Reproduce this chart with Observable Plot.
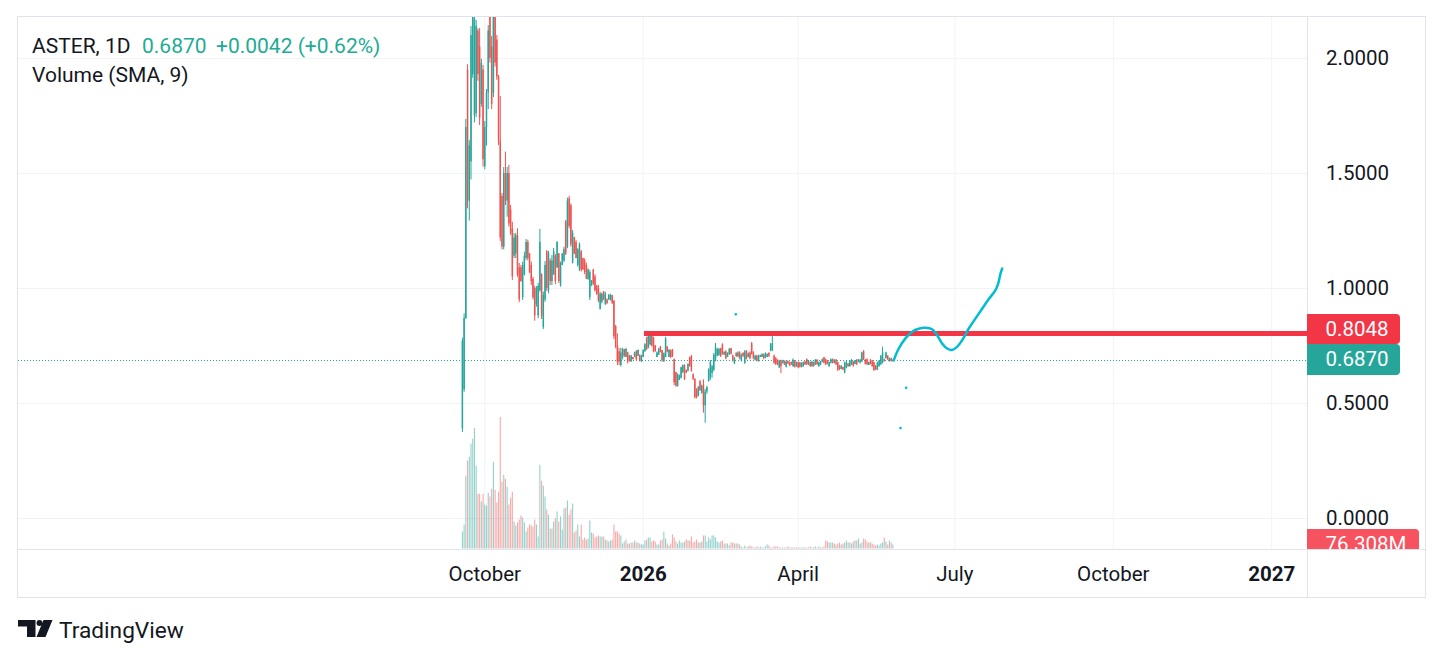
<!DOCTYPE html>
<html>
<head>
<meta charset="utf-8">
<script src="https://cdn.jsdelivr.net/npm/d3@7"></script>
<script src="https://cdn.jsdelivr.net/npm/@observablehq/plot@0.6"></script>
<style>
  html, body { margin: 0; padding: 0; background: #ffffff; }
  #chart { position: relative; width: 1444px; height: 659px; overflow: hidden; font-family: Roboto, sans-serif; }
  #chart > svg { position: absolute; left: 0; top: 0; }
  .abs { position: absolute; box-sizing: border-box; }
  .plabel { position: absolute; left: 1307px; color: #ffffff; font-size: 20.5px; padding-left: 18.5px; box-sizing: border-box; border-radius: 0 4px 4px 0; }
</style>
</head>
<body>
<div id="chart"></div>
<script>
// ---------- data ----------
const firstCandleDate = "2025-09-18"; // daily candles from this date onward

const opens = [
  0.39,0.56,0.87,1.95,1.38,1.55,1.93,1.75,1.76,2.12,
  2.05,1.80,1.95,1.53,1.70,1.85,2.22,2.05,1.85,2.20,
  2.08,1.92,1.64,1.40,1.18,1.50,1.38,1.50,1.34,1.26,
  1.14,1.15,1.23,1.09,1.09,0.96,1.06,1.13,1.20,1.15,
  1.10,1.04,1.00,0.93,0.88,0.99,1.06,0.83,0.95,1.16,
  0.99,1.12,1.03,1.06,1.14,1.09,1.15,1.01,1.10,1.12,
  1.29,1.18,1.39,1.36,1.11,1.22,1.20,1.10,1.08,1.16,
  1.13,1.12,1.10,1.04,0.96,1.01,1.08,1.05,1.01,1.00,
  0.91,0.94,0.985,0.93,0.95,0.95,0.95,0.97,0.945,0.835,
  0.75,0.725,0.665,0.70,0.735,0.70,0.72,0.705,0.68,0.70,
  0.70,0.725,0.705,0.71,0.68,0.70,0.725,0.785,0.74,0.755,
  0.80,0.785,0.75,0.70,0.71,0.745,0.73,0.68,0.70,0.745,
  0.70,0.73,0.73,0.69,0.635,0.575,0.60,0.61,0.635,0.665,
  0.645,0.64,0.70,0.705,0.625,0.605,0.56,0.53,0.595,0.545,
  0.58,0.49,0.55,0.595,0.61,0.63,0.645,0.69,0.705,0.71,
  0.738,0.755,0.71,0.725,0.70,0.712,0.738,0.708,0.672,0.718,
  0.702,0.72,0.685,0.718,0.675,0.725,0.70,0.72,0.76,0.72,
  0.688,0.705,0.683,0.70,0.70,0.712,0.698,0.70,0.718,0.727,
  0.73,0.705,0.695,0.688,0.655,0.685,0.673,0.683,0.658,0.683,
  0.678,0.678,0.66,0.685,0.66,0.678,0.675,0.657,0.66,0.68,
  0.69,0.668,0.678,0.66,0.678,0.668,0.688,0.66,0.668,0.678,
  0.698,0.69,0.685,0.66,0.675,0.69,0.675,0.688,0.678,0.662,
  0.648,0.656,0.632,0.655,0.672,0.66,0.668,0.68,0.67,0.688,
  0.68,0.675,0.68,0.725,0.688,0.69,0.665,0.688,0.685,0.678,
  0.662,0.645,0.66,0.668,0.675,0.69,0.695,0.705,0.683,0.695,
  0.6828
];
const highs = [
  0.784,0.89,1.735,1.973,1.643,2.139,2.30,2.25,2.165,2.129,
  2.13,1.997,1.97,1.726,1.865,2.143,2.43,2.096,2.35,2.25,
  2.10,1.926,1.835,1.413,1.526,1.593,1.526,1.535,1.361,1.288,
  1.239,1.24,1.26,1.109,1.10,1.115,1.158,1.213,1.21,1.152,
  1.115,1.049,1.01,1.009,1.023,1.257,1.064,0.984,1.117,1.165,
  1.161,1.129,1.143,1.174,1.148,1.204,1.152,1.115,1.152,1.18,
  1.296,1.393,1.401,1.368,1.252,1.223,1.209,1.173,1.198,1.165,
  1.132,1.129,1.11,1.086,1.078,1.035,1.083,1.06,1.013,1.013,
  0.984,0.98,0.987,0.984,0.955,0.974,0.975,0.97,0.948,0.839,
  0.803,0.74,0.74,0.74,0.735,0.74,0.723,0.709,0.71,0.70,
  0.723,0.73,0.733,0.71,0.71,0.733,0.76,0.788,0.803,0.81,
  0.80,0.788,0.752,0.724,0.74,0.748,0.73,0.72,0.788,0.748,
  0.735,0.733,0.735,0.694,0.636,0.629,0.624,0.658,0.668,0.668,
  0.645,0.673,0.701,0.709,0.629,0.607,0.564,0.573,0.60,0.58,
  0.603,0.561,0.575,0.651,0.687,0.667,0.717,0.761,0.739,0.74,
  0.74,0.76,0.725,0.73,0.72,0.74,0.74,0.71,0.70,0.72,
  0.725,0.725,0.715,0.72,0.73,0.73,0.72,0.725,0.765,0.725,
  0.71,0.71,0.71,0.71,0.716,0.716,0.72,0.716,0.72,0.761,
  0.797,0.71,0.70,0.69,0.688,0.688,0.688,0.685,0.685,0.685,
  0.68,0.68,0.694,0.687,0.68,0.68,0.68,0.677,0.68,0.683,
  0.694,0.687,0.68,0.683,0.68,0.691,0.691,0.68,0.683,0.694,
  0.701,0.694,0.687,0.68,0.694,0.694,0.691,0.691,0.68,0.665,
  0.665,0.658,0.68,0.683,0.673,0.687,0.691,0.683,0.687,0.691,
  0.691,0.691,0.723,0.730,0.691,0.694,0.68,0.691,0.687,0.68,
  0.665,0.68,0.687,0.709,0.745,0.694,0.723,0.709,0.697,0.697,
  0.69
];
const lows = [
  0.374,0.549,0.865,1.346,1.293,1.472,1.914,1.72,1.743,1.901,
  1.709,1.788,1.527,1.516,1.619,1.778,1.98,1.778,1.83,1.963,
  1.905,1.622,1.204,1.168,1.168,1.361,1.31,1.267,1.23,1.035,
  1.13,1.13,1.049,0.939,1.027,0.948,1.054,1.122,1.12,1.065,
  1.013,0.95,0.858,0.919,0.868,0.984,0.865,0.822,0.94,0.987,
  0.977,1.013,1.013,1.057,1.017,1.087,1.022,1.006,1.10,1.112,
  1.143,1.173,1.26,1.18,1.107,1.148,1.129,1.093,1.074,1.071,
  1.078,1.06,1.039,1.035,0.948,1.01,1.013,0.985,0.97,0.938,
  0.906,0.933,0.948,0.926,0.93,0.948,0.945,0.93,0.778,0.738,
  0.665,0.665,0.658,0.69,0.70,0.70,0.672,0.68,0.68,0.69,
  0.70,0.685,0.704,0.68,0.68,0.70,0.723,0.73,0.738,0.75,
  0.745,0.72,0.723,0.70,0.71,0.72,0.68,0.68,0.70,0.72,
  0.70,0.695,0.70,0.578,0.571,0.571,0.60,0.607,0.63,0.60,
  0.63,0.637,0.658,0.636,0.60,0.52,0.52,0.53,0.553,0.54,
  0.458,0.414,0.54,0.593,0.60,0.61,0.638,0.681,0.703,0.705,
  0.70,0.71,0.71,0.69,0.70,0.71,0.71,0.68,0.67,0.70,
  0.70,0.69,0.68,0.70,0.67,0.69,0.70,0.69,0.71,0.69,
  0.685,0.68,0.68,0.70,0.70,0.69,0.695,0.70,0.70,0.725,
  0.725,0.67,0.665,0.665,0.652,0.63,0.672,0.665,0.655,0.67,
  0.66,0.665,0.658,0.654,0.658,0.651,0.654,0.655,0.658,0.665,
  0.665,0.665,0.658,0.658,0.658,0.665,0.665,0.658,0.665,0.677,
  0.672,0.665,0.668,0.658,0.672,0.672,0.672,0.665,0.639,0.643,
  0.647,0.643,0.629,0.651,0.658,0.658,0.665,0.658,0.668,0.665,
  0.677,0.672,0.68,0.687,0.668,0.665,0.665,0.668,0.658,0.639,
  0.643,0.643,0.658,0.665,0.672,0.68,0.694,0.687,0.68,0.68,
  0.68
];
const closes = [
  0.77,0.87,1.70,1.38,1.62,2.10,2.18,2.17,2.14,1.93,
  1.74,1.98,1.56,1.70,1.85,2.12,2.00,1.80,2.20,1.98,
  1.92,1.64,1.22,1.18,1.50,1.38,1.50,1.28,1.24,1.05,
  1.22,1.23,1.06,0.95,1.03,1.10,1.14,1.20,1.13,1.07,
  1.03,0.96,0.88,1.00,1.01,1.20,0.88,0.97,1.10,1.00,
  1.15,1.03,1.12,1.16,1.03,1.20,1.03,1.11,1.15,1.17,
  1.15,1.38,1.27,1.19,1.24,1.15,1.13,1.17,1.19,1.08,
  1.08,1.07,1.04,1.08,1.07,1.03,1.02,0.99,0.975,0.945,
  0.975,0.975,0.95,0.975,0.935,0.97,0.97,0.935,0.79,0.745,
  0.68,0.68,0.72,0.735,0.705,0.735,0.68,0.685,0.705,0.69,
  0.72,0.69,0.73,0.685,0.705,0.73,0.755,0.735,0.80,0.805,
  0.75,0.725,0.725,0.72,0.735,0.722,0.685,0.715,0.78,0.723,
  0.73,0.70,0.705,0.59,0.575,0.625,0.62,0.655,0.665,0.605,
  0.632,0.67,0.66,0.64,0.605,0.525,0.525,0.57,0.555,0.575,
  0.49,0.55,0.57,0.645,0.68,0.66,0.71,0.745,0.735,0.735,
  0.705,0.715,0.722,0.695,0.718,0.735,0.715,0.685,0.695,0.705,
  0.72,0.695,0.71,0.705,0.725,0.695,0.715,0.695,0.715,0.695,
  0.705,0.685,0.705,0.708,0.712,0.695,0.715,0.712,0.705,0.755,
  0.76,0.675,0.67,0.668,0.685,0.66,0.685,0.668,0.68,0.672,
  0.663,0.668,0.688,0.658,0.675,0.655,0.658,0.675,0.678,0.668,
  0.668,0.685,0.66,0.68,0.66,0.688,0.668,0.677,0.68,0.69,
  0.675,0.668,0.67,0.678,0.69,0.675,0.688,0.668,0.645,0.648,
  0.662,0.646,0.675,0.678,0.66,0.684,0.688,0.662,0.685,0.668,
  0.689,0.688,0.72,0.69,0.67,0.668,0.678,0.67,0.66,0.643,
  0.646,0.675,0.684,0.705,0.72,0.683,0.72,0.69,0.694,0.6828,
  0.687
];
// daily volume, millions
const volumesM = [
  323,456,1387,1672,1748,1995,2090,2299,1577,1045,
  1045,893,1045,836,817,1064,988,1140,1653,1121,
  874,1083,2508,1273,1406,1330,1178,836,969,1083,
  513,437,494,551,627,589,494,323,399,456,
  437,418,551,456,228,1596,1292,1197,988,741,
  646,380,380,513,570,703,513,608,361,760,
  779,912,646,741,855,304,342,456,228,456,
  171,209,171,190,532,304,285,209,228,247,
  228,228,228,171,152,133,152,171,456,323,
  323,285,247,95,133,171,95,95,114,114,
  152,114,114,95,76,76,152,171,209,209,
  133,152,133,76,76,152,171,323,190,95,
  57,95,266,209,133,95,152,114,114,133,
  171,152,152,228,114,133,171,114,114,133,
  247,247,133,209,171,247,247,209,133,114,
  133,152,95,95,95,57,114,114,95,95,
  95,76,38,19,57,19,38,57,38,19,
  19,38,19,38,19,19,38,76,57,19,
  19,38,38,38,19,19,19,19,19,38,
  19,19,19,19,19,19,19,19,19,19,
  19,19,38,19,19,38,19,38,19,19,
  38,152,133,114,114,114,95,76,95,114,
  76,95,114,152,114,114,95,133,152,152,
  190,95,114,190,171,133,114,114,95,76,
  57,76,57,95,114,209,133,76,152,114,
  76.308
];

const priceTicks = [0, 0.5, 1, 1.5, 2];
const timeTickDates = ["2025-10-01", "2026-01-01", "2026-04-01", "2026-07-01", "2026-10-01", "2027-01-01"];
const timeTickLabels = ["October", "2026", "April", "July", "October", "2027"];

const symbolLabel = "ASTER, 1D";
const lastPrice = 0.6870;
const lastChange = "+0.0042 (+0.62%)";
const volumeLabel = "Volume (SMA, 9)";
const lastVolumeLabel = "76.308M";

const resistancePrice = 0.8048;
const resistanceFrom = "2026-01-01T18:00Z";

// hand-drawn projection curve
const projDates = [
  "2026-05-26T12:00Z","2026-05-29T10:00Z","2026-06-02T07:00Z","2026-06-06T05:00Z",
  "2026-06-10T00:00Z","2026-06-13T22:00Z","2026-06-17T19:00Z","2026-06-20T17:00Z",
  "2026-06-23T14:00Z","2026-06-26T12:00Z","2026-06-29T10:00Z","2026-07-02T07:00Z",
  "2026-07-05T05:00Z","2026-07-09T02:00Z","2026-07-13T00:00Z","2026-07-16T22:00Z",
  "2026-07-20T17:00Z","2026-07-24T14:00Z","2026-07-26T05:00Z","2026-07-27T12:00Z",
  "2026-07-28T12:00Z"
];
const projPrices = [
  0.688,0.739,0.783,0.812,0.825,0.829,0.823,0.797,0.761,0.739,0.733,
  0.746,0.775,0.826,0.870,0.913,0.954,0.993,1.022,1.065,1.087
];
// stray brush dots
const strayDates = ["2026-02-23T19:00Z", "2026-06-02T17:00Z", "2026-05-30T10:00Z"];
const strayPrices = [0.888, 0.568, 0.393];

// ---------- view settings ----------
const X_FROM = new Date("2025-01-03T05:00Z");
const X_TO = new Date("2027-01-21T19:00Z");
const Y_BOTTOM = -0.1348, Y_TOP = 2.1783;
const VOL_BASE = -0.1322;           // price-axis position of the volume pane baseline
const VOL_K = 1 / (230 * 19.08);     // price units per million of volume
const UP = "#26a69a", DOWN = "#ef5350";
const VOL_UP = "rgba(38,166,154,0.5)", VOL_DOWN = "rgba(239,83,80,0.5)";
const GRID = "#f0f3fa", INK = "#131722", CYAN = "#00bcd4";

// ---------- tables ----------
const start = new Date(firstCandleDate + "T00:00:00Z");
const candles = opens.map((o, i) => ({
  date: d3.utcDay.offset(start, i),
  open: o, high: highs[i], low: lows[i], close: closes[i],
  vol: volumesM[i], up: closes[i] >= o
}));
const ticks = timeTickDates.map((s, i) => ({date: new Date(s + "T00:00:00Z"), label: timeTickLabels[i], year: /^\d+$/.test(timeTickLabels[i])}));
const projection = projDates.map((s, i) => ({date: new Date(s), price: projPrices[i]}));
const strays = strayDates.map((s, i) => ({date: new Date(s), price: strayPrices[i]}));

const plot = Plot.plot({
  width: 1444,
  height: 659,
  marginLeft: 18,
  marginRight: 137,
  marginTop: 17,
  marginBottom: 110,
  style: {fontFamily: "Roboto, sans-serif", fontSize: "20px", color: INK, background: "transparent", overflow: "visible"},
  x: {type: "utc", domain: [X_FROM, X_TO], axis: null},
  y: {domain: [Y_BOTTOM, Y_TOP], clamp: true, axis: null},
  color: {type: "identity"},
  marks: [
    Plot.ruleY(priceTicks, {stroke: GRID, strokeWidth: 1}),
    Plot.ruleX(ticks, {x: "date", stroke: GRID, strokeWidth: 1}),
    Plot.ruleX(candles, {x: "date", y1: () => VOL_BASE, y2: d => VOL_BASE + d.vol * VOL_K,
      stroke: d => d.up ? VOL_UP : VOL_DOWN, strokeWidth: 1.1}),
    Plot.ruleY([lastPrice], {stroke: UP, strokeWidth: 1, strokeDasharray: "1,2"}),
    Plot.ruleX(candles, {x: "date", y1: "low", y2: "high", stroke: d => d.up ? UP : DOWN, strokeWidth: 1}),
    Plot.ruleX(candles, {x: "date", y1: "open", y2: "close", stroke: d => d.up ? UP : DOWN, strokeWidth: 1.5}),
    Plot.ruleY([resistancePrice], {x1: () => new Date(resistanceFrom), x2: () => X_TO, stroke: "#f23645", strokeWidth: 5}),
    Plot.line(projection, {x: "date", y: "price", stroke: CYAN, strokeWidth: 2.5, curve: "catmull-rom"}),
    Plot.dot(strays, {x: "date", y: "price", r: 1.3, fill: CYAN}),
    Plot.text(priceTicks, {y: d => d, text: d => d.toFixed(4), frameAnchor: "right", dx: 18.5, textAnchor: "start", fontSize: 20.5, fill: INK}),
    Plot.text(ticks.filter(d => !d.year), {x: "date", text: "label", frameAnchor: "bottom", dy: 31, fontSize: 20.5, fill: INK}),
    Plot.text(ticks.filter(d => d.year), {x: "date", text: "label", frameAnchor: "bottom", dy: 31, fontSize: 20.5, fontWeight: "bold", fill: INK})
  ]
});

const chart = document.getElementById("chart");
chart.append(plot);

const ys = plot.scale("y");
const yPix = v => ys.apply ? ys.apply(v)
  : ys.range[0] + (v - ys.domain[0]) / (ys.domain[1] - ys.domain[0]) * (ys.range[1] - ys.range[0]);

function addDiv(style, cls, text) {
  const d = document.createElement("div");
  d.className = cls || "abs";
  Object.assign(d.style, style);
  if (text != null) d.textContent = text;
  chart.append(d);
  return d;
}
// frame lines
addDiv({left: "17px", top: "16px", width: "1409px", height: "582px", border: "1px solid #e0e3eb"});
addDiv({left: "1306.5px", top: "16px", width: "1px", height: "582px", background: "#e0e3eb"});
addDiv({left: "17px", top: "548.5px", width: "1409px", height: "1px", background: "#e0e3eb"});

// price labels on the price scale
const yLast = yPix(lastPrice);
addDiv({top: (yLast - 15.5) + "px", height: "31px", lineHeight: "31px", width: "93px", background: UP}, "plabel", lastPrice.toFixed(4));
addDiv({top: (yLast - 45.5) + "px", height: "30px", lineHeight: "30px", width: "93px", background: "#f23645"}, "plabel", resistancePrice.toFixed(4));
// last volume label, clipped by the pane bottom
const clip = addDiv({left: "1307px", top: "17px", width: "130px", height: "531.5px", overflow: "hidden"});
const yVol = yPix(VOL_BASE + volumesM[volumesM.length - 1] * VOL_K);
const vbox = document.createElement("div");
vbox.className = "plabel";
Object.assign(vbox.style, {left: "0px", top: (yVol - 17 - 15) + "px", height: "30px", lineHeight: "30px", width: "112px", background: "#f7525f"});
vbox.textContent = lastVolumeLabel;
clip.append(vbox);

// header and footer text
const NS = "http://www.w3.org/2000/svg";
const over = document.createElementNS(NS, "svg");
over.setAttribute("width", 1444);
over.setAttribute("height", 659);
over.style.position = "absolute"; over.style.left = "0"; over.style.top = "0";
over.style.fontFamily = "Roboto, sans-serif";
function txt(x, y, s, fill, size, weight) {
  const t = document.createElementNS(NS, "text");
  t.setAttribute("x", x); t.setAttribute("y", y);
  t.setAttribute("fill", fill); t.setAttribute("font-size", size);
  if (weight) t.setAttribute("font-weight", weight);
  t.textContent = s;
  over.append(t);
}
txt(32, 53, symbolLabel, INK, 21);
txt(142, 53, lastPrice.toFixed(4), "#22ab94", 21);
txt(216, 53, lastChange, "#22ab94", 21);
txt(32, 82, volumeLabel, INK, 21);
txt(59, 637.5, "TradingView", INK, 22.7);
// TradingView logo
const logo = document.createElementNS(NS, "path");
logo.setAttribute("d", "M18,620 H35.5 V637 H27 V626.5 H18 Z M43.5,620 H52.5 L45.5,637 H36.5 Z");
logo.setAttribute("fill", INK);
over.append(logo);
const dot = document.createElementNS(NS, "circle");
dot.setAttribute("cx", 39.5); dot.setAttribute("cy", 623); dot.setAttribute("r", 3);
dot.setAttribute("fill", INK);
over.append(dot);
chart.append(over);
</script>
</body>
</html>
